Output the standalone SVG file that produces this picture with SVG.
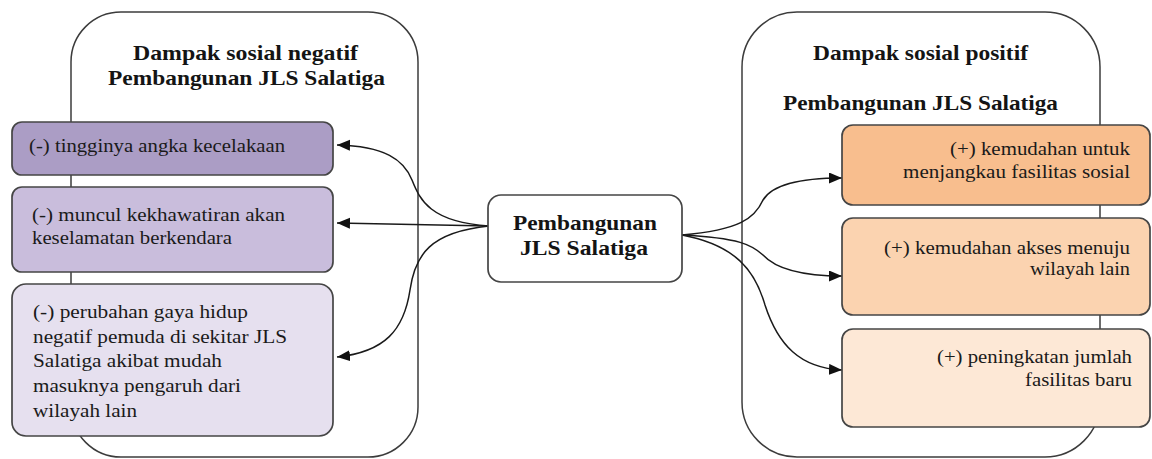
<svg xmlns="http://www.w3.org/2000/svg" width="1152" height="459" viewBox="0 0 1152 459">
  <defs>
    <marker id="arrow" markerUnits="userSpaceOnUse" markerWidth="15" markerHeight="12" refX="13" refY="5.5" orient="auto">
      <path d="M0,0 L13,5.5 L0,11 z" fill="#111"/>
    </marker>
    <style>
      .frame { fill: #fff; stroke: #3c3c3c; stroke-width: 1.5; }
      .box { stroke: #454545; stroke-width: 1.7; }
      .edge { fill: none; stroke: #1a1a1a; stroke-width: 1.5; marker-end: url(#arrow); }
      .head { font-family: "Liberation Serif", "Times New Roman", serif; font-weight: bold; font-size: 21px; fill: #141414; }
      .body { font-family: "Liberation Serif", "Times New Roman", serif; font-size: 18px; fill: #1a1a1a; }
      .n1 { fill: #ab9dc5; }
      .n2 { fill: #c9bddc; }
      .n3 { fill: #e6e0ef; }
      .p1 { fill: #f8be8e; }
      .p2 { fill: #fbd3b0; }
      .p3 { fill: #fde8d6; }
    </style>
  </defs>

  <rect width="1152" height="459" fill="#fff"/>

  <!-- group frames -->
  <g id="frame-negatif">
    <rect class="frame" x="71" y="12" width="347" height="445" rx="50"/>
    <text class="head" x="133" y="60" textLength="225" lengthAdjust="spacingAndGlyphs">Dampak sosial negatif</text>
    <text class="head" x="108" y="85" textLength="277" lengthAdjust="spacingAndGlyphs">Pembangunan JLS Salatiga</text>
  </g>
  <g id="frame-positif">
    <rect class="frame" x="742" y="12" width="358" height="445" rx="55"/>
    <text class="head" x="813" y="60" textLength="215" lengthAdjust="spacingAndGlyphs">Dampak sosial positif</text>
    <text class="head" x="783" y="110" textLength="275" lengthAdjust="spacingAndGlyphs">Pembangunan JLS Salatiga</text>
  </g>

  <!-- connectors -->
  <g id="connectors">
    <path class="edge" d="M489,226 C430,222 420,200 412,180 C404,160 385,146 337,145"/>
    <path class="edge" d="M489,226 L337,223"/>
    <path class="edge" d="M489,226 C430,232 415,255 410,290 C404,330 385,352 337,357"/>
    <path class="edge" d="M682,235 C740,230 755,218 763,200 C772,185 800,178 842,178"/>
    <path class="edge" d="M682,235 C740,238 752,245 763,255 C775,268 800,276 842,276"/>
    <path class="edge" d="M682,235 C735,245 755,270 765,305 C778,345 800,368 842,370"/>
  </g>

  <!-- centre node -->
  <g id="pembangunan">
    <rect class="box" x="488" y="195" width="194" height="87" rx="13" fill="#fff"/>
    <text class="head" x="513" y="230" textLength="144" lengthAdjust="spacingAndGlyphs">Pembangunan</text>
    <text class="head" x="520" y="255" textLength="128" lengthAdjust="spacingAndGlyphs">JLS Salatiga</text>
  </g>

  <!-- negative impacts -->
  <g id="neg-kecelakaan">
    <rect class="box n1" x="12" y="122" width="321" height="53" rx="10"/>
    <text class="body" x="29" y="152" textLength="256" lengthAdjust="spacingAndGlyphs">(-) tingginya angka kecelakaan</text>
  </g>
  <g id="neg-kekhawatiran">
    <rect class="box n2" x="12" y="187" width="321" height="85" rx="10"/>
    <text class="body" x="32" y="221" textLength="253" lengthAdjust="spacingAndGlyphs">(-) muncul kekhawatiran akan</text>
    <text class="body" x="32" y="244" textLength="200" lengthAdjust="spacingAndGlyphs">keselamatan berkendara</text>
  </g>
  <g id="neg-gaya-hidup">
    <rect class="box n3" x="12" y="284" width="321" height="152" rx="14"/>
    <text class="body" x="33" y="318" textLength="215" lengthAdjust="spacingAndGlyphs">(-) perubahan gaya hidup</text>
    <text class="body" x="33" y="343" textLength="254" lengthAdjust="spacingAndGlyphs">negatif pemuda di sekitar JLS</text>
    <text class="body" x="33" y="367" textLength="189" lengthAdjust="spacingAndGlyphs">Salatiga akibat mudah</text>
    <text class="body" x="33" y="392" textLength="208" lengthAdjust="spacingAndGlyphs">masuknya pengaruh dari</text>
    <text class="body" x="33" y="417" textLength="104" lengthAdjust="spacingAndGlyphs">wilayah lain</text>
  </g>

  <!-- positive impacts -->
  <g id="pos-fasilitas-sosial">
    <rect class="box p1" x="842" y="125" width="308" height="80" rx="11"/>
    <text class="body" x="950" y="155" textLength="180" lengthAdjust="spacingAndGlyphs">(+) kemudahan untuk</text>
    <text class="body" x="903" y="178" textLength="227" lengthAdjust="spacingAndGlyphs">menjangkau fasilitas sosial</text>
  </g>
  <g id="pos-akses">
    <rect class="box p2" x="842" y="218" width="308" height="97" rx="11"/>
    <text class="body" x="884" y="254" textLength="246" lengthAdjust="spacingAndGlyphs">(+) kemudahan akses menuju</text>
    <text class="body" x="1030" y="275" textLength="100" lengthAdjust="spacingAndGlyphs">wilayah lain</text>
  </g>
  <g id="pos-fasilitas-baru">
    <rect class="box p3" x="842" y="329" width="308" height="98" rx="11"/>
    <text class="body" x="937" y="363" textLength="195" lengthAdjust="spacingAndGlyphs">(+) peningkatan jumlah</text>
    <text class="body" x="1025" y="386" textLength="107" lengthAdjust="spacingAndGlyphs">fasilitas baru</text>
  </g>
</svg>
